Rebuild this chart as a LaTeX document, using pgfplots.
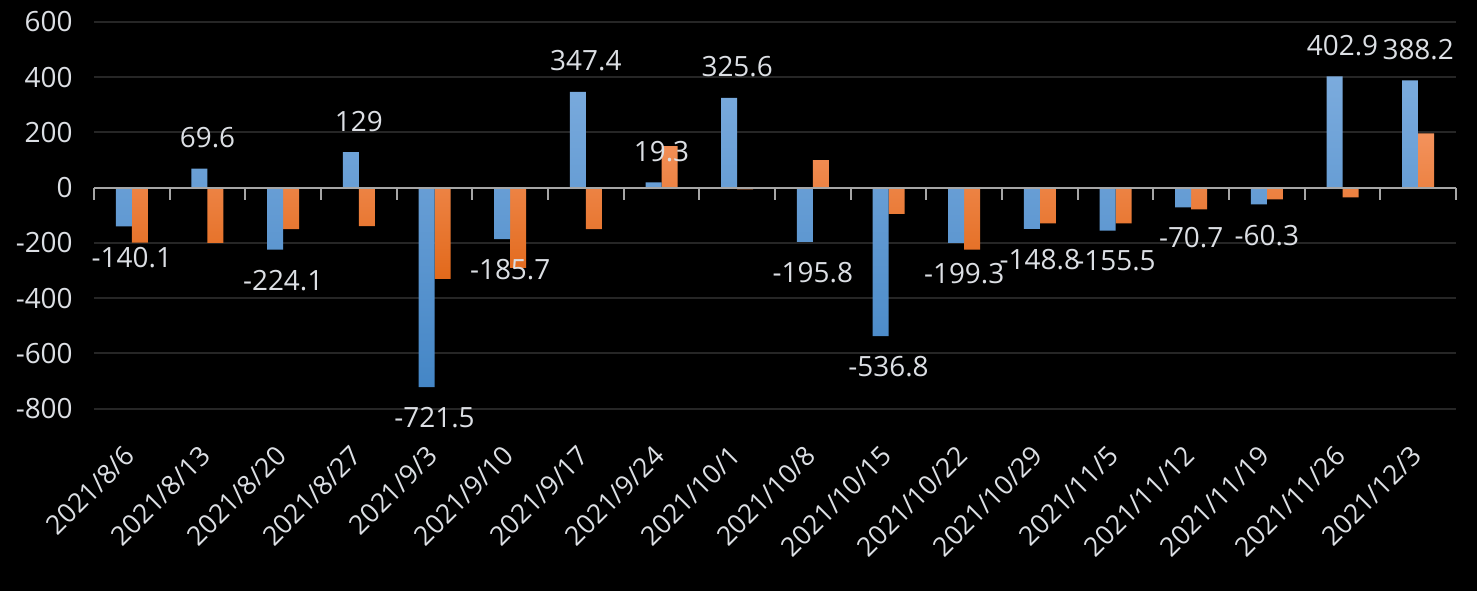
\documentclass[border=0pt]{standalone}
\usepackage{fontspec}
\setmainfont{Open Sans}
\usepackage{pgfplots}
\pgfplotsset{compat=1.18}

\definecolor{gridc}{HTML}{262626}
\definecolor{zeroc}{HTML}{A6A6A6}
\definecolor{labc}{HTML}{DCDFE4}
\definecolor{bluetop}{HTML}{7BABDD}
\definecolor{bluebot}{HTML}{4486C6}
\definecolor{orgtop}{HTML}{F3925C}
\definecolor{orgbot}{HTML}{E2691B}

\newcommand{\lblfont}{\fontsize{14}{16}\selectfont}
\newcommand{\xlblfont}{\fontsize{13.4}{16}\selectfont}

\begin{document}
\begin{tikzpicture}
\fill[black] (-47bp,-91.15bp) rectangle (691.5bp,204.35bp);
\begin{axis}[
  at={(0,0)}, anchor=south west,
  scale only axis, width=681bp, height=193.35bp,
  xmin=0.5, xmax=18.5, ymin=-800, ymax=600,
  axis line style={draw=none},
  major tick length=0pt,
  xtick={1,...,18},
  xticklabels={2021/8/6,2021/8/13,2021/8/20,2021/8/27,2021/9/3,2021/9/10,2021/9/17,2021/9/24,2021/10/1,2021/10/8,2021/10/15,2021/10/22,2021/10/29,2021/11/5,2021/11/12,2021/11/19,2021/11/26,2021/12/3},
  ytick={-800,-600,-400,-200,0,200,400,600},
  yticklabels={-800,-600,-400,-200,0,200,400,600},
  ymajorgrids, grid style={color=gridc, line width=1bp},
  ticklabel style={font=\lblfont, text=labc},
  yticklabel style={anchor=east, inner sep=0pt, xshift=-10.5bp},
  xticklabel style={font=\xlblfont, anchor=north east, inner sep=0pt, xshift=-4.5bp, yshift=-17.5bp, rotate=45},
  clip=false,
]
% orange series (no labels)
\addplot[ybar, bar width=8bp, bar shift=4bp, draw=none, top color=orgtop, bottom color=orgbot]
  coordinates {(1,-199) (2,-200) (3,-150) (4,-139) (5,-330) (6,-290) (7,-150) (8,151) (9,-6)
               (10,100) (11,-95) (12,-224) (13,-129) (14,-129) (15,-78) (16,-42) (17,-35) (18,197)};
% blue series with labels
\addplot[ybar, bar width=8bp, bar shift=-4bp, draw=none, top color=bluetop, bottom color=bluebot,
  nodes near coords, point meta=explicit symbolic,
  visualization depends on={y \as \rawy},
  nodes near coords style={font=\lblfont, text=labc, inner xsep=0pt, inner ysep=10bp,
    anchor=\ifdim\rawy pt<0pt north\else south\fi}]
  coordinates {(1,-140.1)[-140.1] (2,69.6)[69.6] (3,-224.1)[-224.1] (4,129)[129] (5,-721.5)[-721.5]
               (6,-185.7)[-185.7] (7,347.4)[347.4] (8,19.3)[19.3] (9,325.6)[325.6] (10,-195.8)[-195.8]
               (11,-536.8)[-536.8] (12,-199.3)[-199.3] (13,-148.8)[-148.8] (14,-155.5)[-155.5]
               (15,-70.7)[-70.7] (16,-60.3)[-60.3] (17,402.9)[402.9] (18,388.2)[388.2]};
% zero line and category tick marks
\addplot[sharp plot, no marks, zeroc, line width=1bp, forget plot] coordinates {(0.5,0) (18.5,0)};
\addplot[sharp plot, no marks, zeroc, line width=1bp, forget plot, unbounded coords=jump]
  coordinates {(0.5,0) (0.5,-43.4) (nan,nan) (1.5,0) (1.5,-43.4) (nan,nan) (2.5,0) (2.5,-43.4) (nan,nan)
               (3.5,0) (3.5,-43.4) (nan,nan) (4.5,0) (4.5,-43.4) (nan,nan) (5.5,0) (5.5,-43.4) (nan,nan)
               (6.5,0) (6.5,-43.4) (nan,nan) (7.5,0) (7.5,-43.4) (nan,nan) (8.5,0) (8.5,-43.4) (nan,nan)
               (9.5,0) (9.5,-43.4) (nan,nan) (10.5,0) (10.5,-43.4) (nan,nan) (11.5,0) (11.5,-43.4) (nan,nan)
               (12.5,0) (12.5,-43.4) (nan,nan) (13.5,0) (13.5,-43.4) (nan,nan) (14.5,0) (14.5,-43.4) (nan,nan)
               (15.5,0) (15.5,-43.4) (nan,nan) (16.5,0) (16.5,-43.4) (nan,nan) (17.5,0) (17.5,-43.4) (nan,nan)
               (18.5,0) (18.5,-43.4)};
\end{axis}
\pgfresetboundingbox
\useasboundingbox (-47bp,-91.15bp) rectangle (691.5bp,204.35bp);
\end{tikzpicture}
\end{document}
